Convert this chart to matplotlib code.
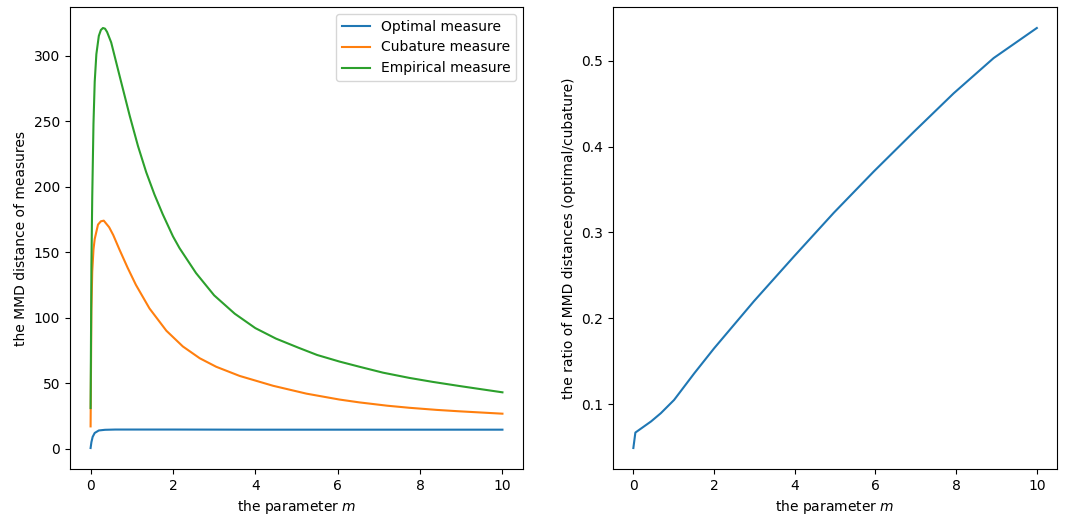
import matplotlib
matplotlib.use('Agg')
import matplotlib.pyplot as plt

# values
m_optimal = [0, 0.02, 0.05, 0.1, 0.2, 0.35, 0.6, 1, 2, 4, 6, 8, 10]
optimal = [0.5, 5, 9, 12, 13.9, 14.4, 14.6, 14.6, 14.6, 14.5, 14.5, 14.5, 14.5]

m_cubature = [0, 0.02, 0.04, 0.07, 0.1, 0.18, 0.25, 0.32, 0.45, 0.55, 0.7, 0.9,
              1.1, 1.43, 1.84, 2.24, 2.65, 3.05, 3.62, 4.43, 5.24, 6.04, 6.53,
              7.2, 7.74, 8.4, 8.96, 10]
cubature = [17, 106, 135, 152, 160, 171, 173.5, 174, 169, 163, 152, 138,
            125, 107, 90, 78, 69, 62.5, 55.5, 48, 42, 37.5, 35.3,
            32.8, 31.2, 29.6, 28.5, 26.7]

m_empirical = [0, 0.02, 0.04, 0.07, 0.1, 0.14, 0.2, 0.25, 0.3, 0.35, 0.4, 0.5,
               0.7, 0.95, 1.15, 1.35, 1.55, 1.75, 2.0, 2.16, 2.56, 3.0, 3.5,
               4.0, 4.5, 5.05, 5.5, 6.04, 6.53, 7.1, 7.74, 8.3, 8.96, 9.5, 10]
empirical = [31, 140, 192, 248, 280, 301, 315, 319.5, 321, 320.5, 318, 310,
             285, 254, 231, 211, 194, 179, 162, 153, 134, 117, 103,
             92, 84, 77, 71.5, 66.5, 62.5, 58, 54, 51, 47.8, 45.3, 43]

m_ratio = [0, 0.05, 0.44, 0.68, 1.01, 1.51, 2.0, 2.99, 3.98, 4.97, 5.96,
           6.95, 7.94, 8.93, 10]
ratio = [0.049, 0.067, 0.080, 0.0895, 0.105, 0.136, 0.165, 0.220, 0.272,
         0.323, 0.371, 0.417, 0.462, 0.503, 0.538]

fig = plt.figure(figsize=(10.72, 5.19), dpi=100)
ax1 = fig.add_axes([0.0653, 0.0963, 0.4226, 0.8902])
ax2 = fig.add_axes([0.572, 0.0963, 0.414, 0.8902])

ax1.plot(m_optimal, optimal, label='Optimal measure')
ax1.plot(m_cubature, cubature, label='Cubature measure')
ax1.plot(m_empirical, empirical, label='Empirical measure')
ax1.set_xlabel('the parameter $m$')
ax1.set_ylabel('the MMD distance of measures')
ax1.legend(loc='upper right')

ax2.plot(m_ratio, ratio)
ax2.set_xlabel('the parameter $m$')
ax2.set_ylabel('the ratio of MMD distances (optimal/cubature)')

plt.savefig('out.png', dpi=100)
